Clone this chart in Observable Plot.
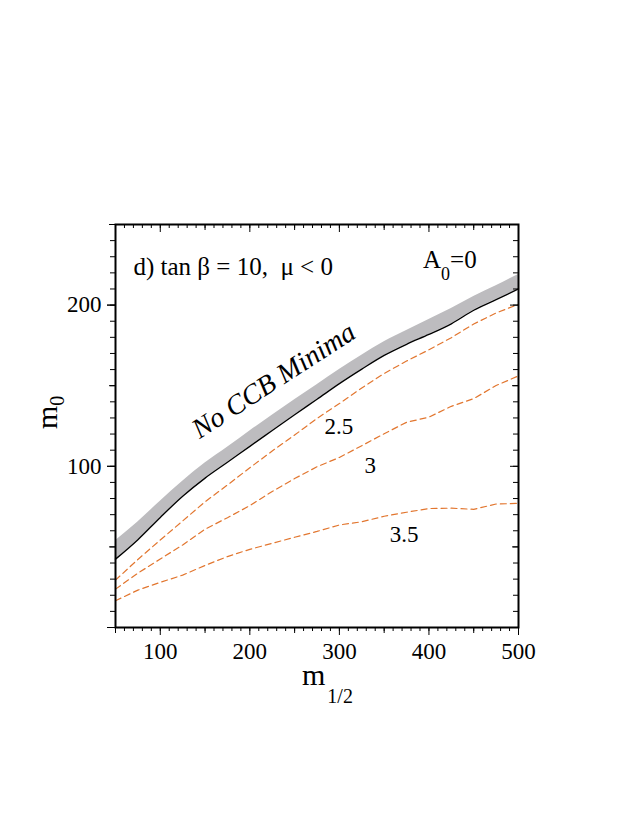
<!DOCTYPE html>
<html><head><meta charset="utf-8">
<script src="https://cdn.jsdelivr.net/npm/d3@7"></script>
<script src="https://cdn.jsdelivr.net/npm/@observablehq/plot@0.6"></script>
<style>body{margin:0;background:#fff} svg{display:block}</style>
</head><body><div id="chart"></div>
<script>
// m_{1/2} sample points
const m12 = [50,75,100,125,150,175,200,225,250,275,300,325,350,375,400,425,450,475,500];
// CCB limit (black line) and upper edge of the grey band
const ccbLimit   = [42.4,54.5,68.3,81.4,92.7,102.5,112.4,122.2,132.0,141.6,151.3,160.3,168.8,175.7,181.8,188.4,196.8,203.4,210.0];
const ccbBandTop = [53.8,65.5,78.3,90.7,102.0,111.8,121.9,131.7,141.3,150.6,160.1,168.9,177.3,184.2,191.0,197.9,205.3,212.0,219.0];
// dashed contours
const ratio25 = [29.4,42.2,54.3,66.1,78.0,88.4,99.1,109.5,119.4,129.7,138.9,148.6,157.6,165.3,172.3,179.8,188.3,195.1,200.5];
const ratio3  = [23.8,33.7,42.5,51.2,61.0,68.1,75.6,84.4,92.4,99.7,105.5,112.8,120.2,127.3,130.5,137.2,142.0,150.1,156.1];
const ratio35 = [16.6,23.2,28.0,32.5,38.5,44.0,48.5,52.2,56.0,59.6,63.6,65.6,69.0,71.5,73.8,74.0,73.3,76.6,77.0];
// contour labels
const contourLabels = ["2.5","3","3.5"];
const contourLabelX = [299.5,334.5,372.2];
const contourLabelY = [124.4,100.2,57.9];
const regionLabel = ["No CCB Minima"];
const regionLabelX = [226.5];
const regionLabelY = [153.2];
const panelTitle = ["d) tan\u00a0β\u00a0=\u00a010,\u00a0\u00a0μ\u00a0<\u00a00"];
// ticks
const xTicks = [100,200,300,400,500];
const xMid = [50,150,250,350,450];
const xMinor = d3.range(50,501,10);
const yTicks = [100,200];
const yMajor = [0,100,200];
const yMid = [50,150,250];
const yMinor = d3.range(0,251,10);

const W = 623, H = 830, ML = 115, MR = 105, MT = 224, MB = 203;
const PW = W-ML-MR, PH = H-MT-MB;
const orange = "#e2762f";
const font = "'Liberation Serif', 'Times New Roman', serif";

const band = m12.map((x,i)=>({x, lo: ccbLimit[i], hi: ccbBandTop[i]}));
const mk = arr => m12.map((x,i)=>({x, y: arr[i]}));

const plot = Plot.plot({
  width: W, height: H,
  marginLeft: ML, marginRight: MR, marginTop: MT, marginBottom: MB,
  style: {fontFamily: font, fontSize: "23px", background: "white", color: "black"},
  x: {domain: [50,500], label: null},
  y: {domain: [0,250], label: null},
  marks: [
    Plot.areaY(band, {x: "x", y1: "lo", y2: "hi", fill: "#bdbcbf", curve: "monotone-x"}),
    Plot.line(mk(ccbLimit), {x: "x", y: "y", stroke: "black", strokeWidth: 1.4, curve: "monotone-x"}),
    Plot.line(mk(ratio25), {x: "x", y: "y", stroke: orange, strokeWidth: 1.2, strokeDasharray: "6,4"}),
    Plot.line(mk(ratio3), {x: "x", y: "y", stroke: orange, strokeWidth: 1.2, strokeDasharray: "6,4"}),
    Plot.line(mk(ratio35), {x: "x", y: "y", stroke: orange, strokeWidth: 1.2, strokeDasharray: "6,4"}),
    Plot.text(contourLabels, {x: (d,i)=>contourLabelX[i], y: (d,i)=>contourLabelY[i], text: d=>d, fontSize: 23, fill: "black"}),
    Plot.text(regionLabel, {x: (d,i)=>regionLabelX[i], y: (d,i)=>regionLabelY[i], text: d=>d, rotate: -33, fontSize: 28, fontStyle: "italic", fill: "black"}),
    Plot.text(panelTitle, {frameAnchor: "top-left", text: d=>d, dx: 18, dy: 50, textAnchor: "start", lineAnchor: "bottom", fontSize: 25, fill: "black"}),
    // bottom axis (outward ticks)
    Plot.axisX(xMinor, {tickSize: 4, tickFormat: () => "", label: null}),
    Plot.axisX(xMid, {tickSize: 6, tickFormat: () => "", label: null}),
    Plot.axisX(xTicks, {tickSize: 8, tickPadding: 7, fontSize: 23, label: null, tickFormat: d => String(d)}),
    // left axis (outward ticks)
    Plot.axisY(yMinor, {tickSize: 5, tickFormat: () => "", label: null}),
    Plot.axisY(yMid, {tickSize: 6, tickFormat: () => "", label: null}),
    Plot.axisY(yMajor, {tickSize: 8, tickFormat: () => "", label: null}),
    Plot.axisY(yTicks, {tickSize: 8, tickPadding: 6, fontSize: 23, label: null, tickFormat: d => String(d)}),
    // top axis (inward ticks)
    Plot.tickX(xMinor, {x: d=>d, insetBottom: PH-4, stroke: "black"}),
    Plot.tickX(xMid, {x: d=>d, insetBottom: PH-6, stroke: "black"}),
    Plot.tickX(xTicks, {x: d=>d, insetBottom: PH-8, stroke: "black"}),
    // right axis (inward ticks)
    Plot.tickY(yMinor, {y: d=>d, insetLeft: PW-5, stroke: "black"}),
    Plot.tickY(yMid, {y: d=>d, insetLeft: PW-6, stroke: "black"}),
    Plot.tickY(yMajor, {y: d=>d, insetLeft: PW-8, stroke: "black"}),
    Plot.frame({stroke: "black", strokeWidth: 2})
  ]
});

// subscripted labels
const svg = d3.select(plot);
const g = svg.append("g").attr("font-family", font).attr("fill", "black").attr("text-anchor", "start");
const a0 = g.append("text").attr("x", 423).attr("y", 268).attr("font-size", 25);
a0.append("tspan").text("A");
a0.append("tspan").attr("dy", 12).attr("font-size", 18).text("0");
a0.append("tspan").attr("dy", -12).text("=0");

const xt = g.append("text").attr("x", 302).attr("y", 685).attr("font-size", 30);
xt.append("tspan").text("m");
xt.append("tspan").attr("dx", 2).attr("dy", 18).attr("font-size", 20).text("1/2");

const yt = g.append("text").attr("transform", "translate(57,429) rotate(-90)").attr("font-size", 30);
yt.append("tspan").text("m");
yt.append("tspan").attr("dy", 7).attr("font-size", 20).text("0");

document.getElementById("chart").appendChild(plot);
</script>
</body></html>
